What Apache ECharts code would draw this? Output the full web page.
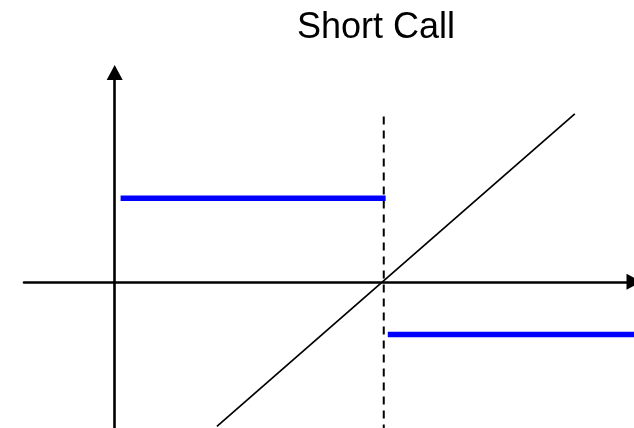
<!DOCTYPE html>
<html>
<head>
<meta charset="utf-8">
<script src="https://cdn.jsdelivr.net/npm/echarts@6/dist/echarts.min.js"></script>
<style>
  html, body { margin: 0; padding: 0; background: #fff; }
  #chart { width: 634px; height: 428px; }
</style>
</head>
<body>
<div id="chart"></div>
<script>
// payoff diagram, strike at x = 100
const strike = 100;
const premiumLine = [[2.2, 10], [100.7, 10]];
const lossLine = [[101.5, -6.3], [193, -6.3]];
const diagonal = [[38, -17.3], [171, 20.1]];
const strikeMarker = [[strike, 19.8], [strike, -18]];

const chart = echarts.init(document.getElementById('chart'));

const axisLine = {
    onZero: true,
    symbol: ['none', 'triangle'],
    symbolSize: [16, 15],
    lineStyle: { color: '#000', width: 2.6 }
};

const option = {
    animation: false,
    title: {
        text: 'Short Call',
        left: 297,
        top: 10,
        padding: 0,
        textStyle: {
            fontFamily: 'Liberation Sans, Arial, sans-serif',
            fontSize: 36,
            fontWeight: 'normal',
            color: '#000'
        }
    },
    grid: {
        left: 24,
        top: 72.5,
        width: 612,
        bottom: -2
    },
    xAxis: {
        type: 'value',
        min: -33.7,
        max: 193,
        splitLine: { show: false },
        axisTick: { show: false },
        axisLabel: { show: false },
        axisLine: axisLine
    },
    yAxis: {
        type: 'value',
        min: -17.5,
        max: 25.06,
        splitLine: { show: false },
        axisTick: { show: false },
        axisLabel: { show: false },
        axisLine: axisLine
    },
    series: [
        {
            type: 'line',
            data: diagonal,
            symbol: 'none',
            silent: true,
            lineStyle: { color: '#000', width: 1.7 }
        },
        {
            type: 'line',
            data: strikeMarker,
            symbol: 'none',
            silent: true,
            lineStyle: { color: '#000', width: 2, type: [8, 6] }
        },
        {
            type: 'line',
            data: premiumLine,
            symbol: 'none',
            silent: true,
            lineStyle: { color: '#0000ff', width: 5.6, cap: 'butt' }
        },
        {
            type: 'line',
            data: lossLine,
            symbol: 'none',
            silent: true,
            lineStyle: { color: '#0000ff', width: 5.6, cap: 'butt' }
        }
    ]
};

chart.setOption(option);
</script>
</body>
</html>
